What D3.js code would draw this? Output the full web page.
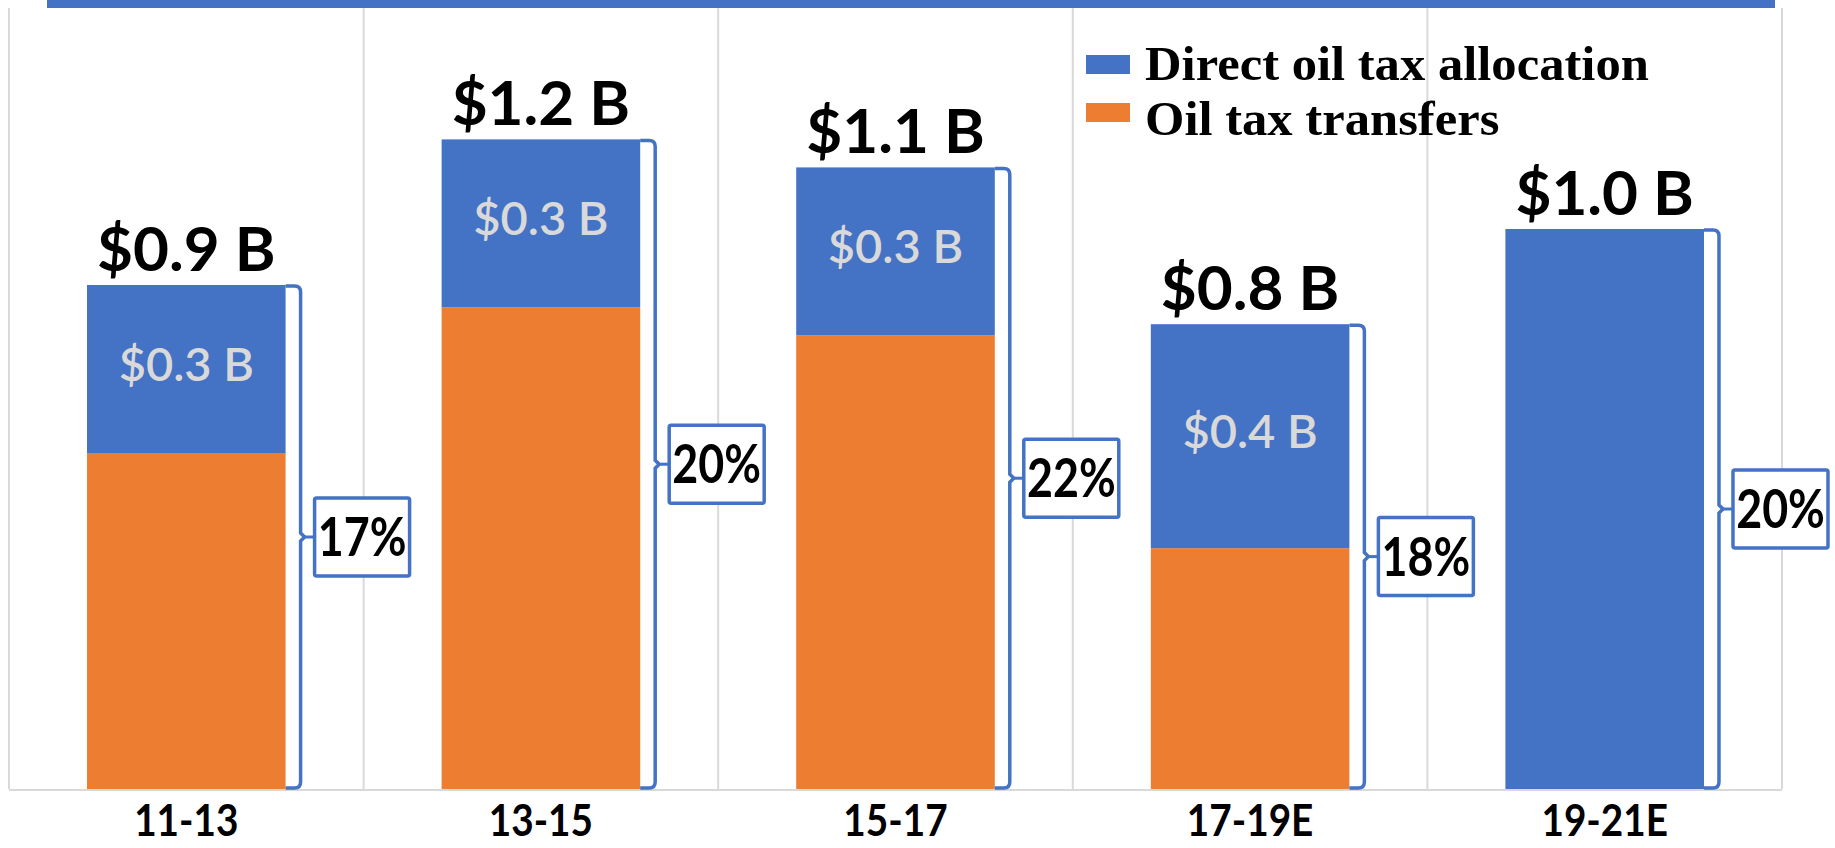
<!DOCTYPE html>
<html>
<head>
<meta charset="utf-8">
<script src="https://cdn.jsdelivr.net/npm/d3@7"></script>
<style>
  html, body { margin: 0; padding: 0; background: #fff; }
  svg { display: block; }
</style>
</head>
<body>
<svg id="chart" width="1835" height="848"></svg>
<script>
// ---- data ----
const categories = ["11-13", "13-15", "15-17", "17-19E", "19-21E"];
const transfers = [0.60, 0.86, 0.81, 0.43, 0.00];   // Oil tax transfers ($B)
const direct    = [0.30, 0.30, 0.30, 0.40, 1.00];   // Direct oil tax allocation ($B)
const totalLabels  = ["$0.9 B", "$1.2 B", "$1.1 B", "$0.8 B", "$1.0 B"];
const directLabels = ["$0.3 B", "$0.3 B", "$0.3 B", "$0.4 B", ""];
const shareLabels  = ["17%", "20%", "22%", "18%", "20%"];
const seriesNames  = ["Direct oil tax allocation", "Oil tax transfers"];

const BLUE = "#4472C4", ORANGE = "#ED7D31", GRID = "#D9D9D9";

const svg = d3.select("#chart");
const plot = { left: 9, right: 1782, top: 5, bottom: 789 };

const x = d3.scaleBand().domain(categories).range([plot.left, plot.right]).padding(0);
const y = d3.scaleLinear().domain([0, 1.4]).range([plot.bottom, plot.top]);
const barW = x.bandwidth() * 0.56;
const bx = c => x(c) + (x.bandwidth() - barW) / 2;

// top band
svg.append("rect").attr("x", 47).attr("y", 0).attr("width", 1775 - 47).attr("height", 8).attr("fill", BLUE);

// vertical category gridlines
const bounds = categories.map(c => x(c)).concat([plot.right]);
svg.append("g").selectAll("line").data(bounds).join("line")
  .attr("x1", d => d).attr("x2", d => d)
  .attr("y1", 8).attr("y2", plot.bottom)
  .attr("stroke", GRID).attr("stroke-width", 2);

// baseline
svg.append("line").attr("x1", plot.left).attr("x2", plot.right)
  .attr("y1", plot.bottom + 1).attr("y2", plot.bottom + 1)
  .attr("stroke", GRID).attr("stroke-width", 2);

const rows = categories.map((c, i) => ({
  c, i, t: transfers[i], d: direct[i], tot: transfers[i] + direct[i]
}));

// bars
const gBars = svg.append("g");
gBars.selectAll("rect.t").data(rows.filter(r => r.t > 0)).join("rect")
  .attr("x", r => bx(r.c)).attr("width", barW)
  .attr("y", r => y(r.t)).attr("height", r => y(0) - y(r.t))
  .attr("fill", ORANGE);
gBars.selectAll("rect.d").data(rows).join("rect")
  .attr("x", r => bx(r.c)).attr("width", barW)
  .attr("y", r => y(r.tot)).attr("height", r => y(r.t) - y(r.tot))
  .attr("fill", BLUE);

// inner labels
svg.append("g").selectAll("text").data(rows.filter(r => directLabels[r.i])).join("text")
  .attr("x", r => bx(r.c) + barW / 2)
  .attr("y", r => (y(r.t) + y(r.tot)) / 2 + 12)
  .attr("text-anchor", "middle")
  .attr("font-family", "Lato, sans-serif").attr("font-size", 47).attr("font-weight", 600)
  .attr("fill", "#D9D9D9")
  .text(r => directLabels[r.i]);

// total labels
svg.append("g").selectAll("text").data(rows).join("text")
  .attr("x", r => bx(r.c) + barW / 2)
  .attr("y", r => y(r.tot) - 14)
  .attr("text-anchor", "middle")
  .attr("font-family", "Lato, sans-serif").attr("font-size", 62).attr("font-weight", 700)
  .attr("fill", "#000")
  .text(r => totalLabels[r.i]);

// brackets with share boxes
const gBr = svg.append("g");
rows.forEach(r => {
  const right = bx(r.c) + barW;
  const xb = right + 15;
  const top = y(r.tot), bot = y(0);
  const mid = (top + bot) / 2;
  const rad = 6;
  const p = d3.path();
  p.moveTo(right, top + 1);
  p.lineTo(xb - rad, top + 1);
  p.quadraticCurveTo(xb, top + 1, xb, top + 1 + rad);
  p.lineTo(xb, mid - 4);
  p.lineTo(xb + 4, mid);
  p.lineTo(xb, mid + 4);
  p.lineTo(xb, bot - 1 - rad);
  p.quadraticCurveTo(xb, bot - 1, xb - rad, bot - 1);
  p.lineTo(right, bot - 1);
  gBr.append("path").attr("d", p.toString())
    .attr("fill", "none").attr("stroke", BLUE).attr("stroke-width", 3.5);
  const boxW = 95, boxH = 78, boxX = xb + 14;
  gBr.append("line").attr("x1", xb + 4).attr("x2", boxX).attr("y1", mid).attr("y2", mid)
    .attr("stroke", BLUE).attr("stroke-width", 3);
  gBr.append("rect").attr("x", boxX).attr("y", mid - boxH / 2)
    .attr("width", boxW).attr("height", boxH).attr("rx", 2)
    .attr("fill", "#fff").attr("stroke", BLUE).attr("stroke-width", 3.5);
  gBr.append("text")
    .attr("transform", `translate(${boxX + boxW / 2},${mid + 19}) scale(0.83,1)`)
    .attr("text-anchor", "middle")
    .attr("font-family", "Lato, sans-serif").attr("font-size", 54).attr("font-weight", 700)
    .attr("fill", "#000")
    .text(shareLabels[r.i]);
});

// category labels
svg.append("g").selectAll("text").data(categories).join("text")
  .attr("transform", c => `translate(${x(c) + x.bandwidth() / 2},836) scale(0.88,1)`)
  .attr("text-anchor", "middle")
  .attr("font-family", "Lato, sans-serif").attr("font-size", 44).attr("font-weight", 700)
  .attr("fill", "#000")
  .text(c => c);

// legend
const legend = svg.append("g");
const legColors = [BLUE, ORANGE];
const swatchY = [55, 103], textY = [80, 135];
seriesNames.forEach((n, i) => {
  legend.append("rect").attr("x", 1086).attr("y", swatchY[i]).attr("width", 44).attr("height", 19)
    .attr("fill", legColors[i]);
  legend.append("text")
    .attr("transform", `translate(1145,${textY[i]}) scale(1.055,1)`)
    .attr("font-family", "'Liberation Serif', serif").attr("font-size", 48).attr("font-weight", 700)
    .attr("fill", "#000")
    .text(n);
});
</script>
</body>
</html>
